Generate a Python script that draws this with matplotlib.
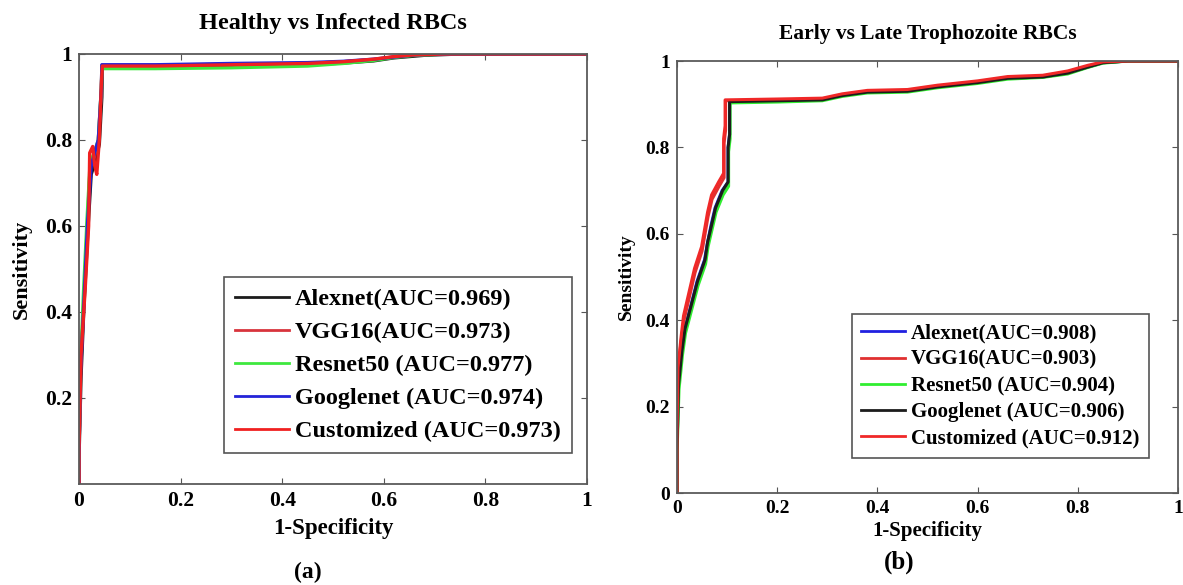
import matplotlib
matplotlib.use("Agg")
import matplotlib.pyplot as plt

plt.rcParams["font.family"] = ["Liberation Serif", "DejaVu Serif"]
plt.rcParams["font.weight"] = "bold"

# ---- tick labels ----
X_TICKS = [0, 0.2, 0.4, 0.6, 0.8, 1]
X_TICK_LABELS = ["0", "0.2", "0.4", "0.6", "0.8", "1"]
Y_TICKS_A = [0.2, 0.4, 0.6, 0.8, 1]
Y_TICK_LABELS_A = ["0.2", "0.4", "0.6", "0.8", "1"]
Y_TICKS_B = [0, 0.2, 0.4, 0.6, 0.8, 1]
Y_TICK_LABELS_B = ["0", "0.2", "0.4", "0.6", "0.8", "1"]

# ---- (a) Healthy vs Infected RBCs ----
labels_a = ["Alexnet(AUC=0.969)", "VGG16(AUC=0.973)", "Resnet50 (AUC=0.977)",
            "Googlenet (AUC=0.974)", "Customized (AUC=0.973)"]
colors_a = ["#1c1c1c", "#d8343c", "#3ee83e", "#2424d8", "#f02020"]

fpr_alexnet_a = [0, 0, 0.004, 0.010, 0.018, 0.024, 0.032, 0.040, 0.045, 0.046, 0.15, 0.30, 0.45, 0.52, 0.58, 0.62, 0.68, 0.75, 1.0]
tpr_alexnet_a = [0, 0.06, 0.25, 0.42, 0.60, 0.72, 0.75, 0.79, 0.90, 0.970, 0.970, 0.972, 0.975, 0.979, 0.984, 0.991, 0.997, 1.0, 1.0]
fpr_vgg16_a = [0, 0, 0.003, 0.010, 0.017, 0.022, 0.030, 0.038, 0.044, 0.045, 0.15, 0.30, 0.45, 0.52, 0.58, 0.62, 0.66, 0.72, 1.0]
tpr_vgg16_a = [0, 0.07, 0.27, 0.44, 0.62, 0.74, 0.76, 0.80, 0.92, 0.974, 0.974, 0.976, 0.978, 0.982, 0.987, 0.993, 0.998, 1.0, 1.0]
fpr_resnet50_a = [0, 0, 0.003, 0.009, 0.016, 0.022, 0.030, 0.038, 0.044, 0.045, 0.15, 0.30, 0.45, 0.52, 0.58, 0.62, 0.66, 0.72, 1.0]
tpr_resnet50_a = [0, 0.08, 0.28, 0.45, 0.62, 0.75, 0.77, 0.80, 0.92, 0.966, 0.966, 0.968, 0.972, 0.978, 0.985, 0.992, 0.997, 1.0, 1.0]
fpr_googlenet_a = [0, 0, 0.003, 0.010, 0.017, 0.024, 0.033, 0.038, 0.044, 0.045, 0.15, 0.30, 0.45, 0.52, 0.58, 0.62, 0.66, 0.72, 1.0]
tpr_googlenet_a = [0, 0.07, 0.26, 0.43, 0.61, 0.74, 0.78, 0.80, 0.92, 0.975, 0.975, 0.978, 0.980, 0.983, 0.988, 0.993, 0.998, 1.0, 1.0]
fpr_custom_a = [0, 0, 0.004, 0.012, 0.019, 0.021, 0.027, 0.031, 0.035, 0.040, 0.044, 0.046, 0.15, 0.30, 0.45, 0.52, 0.58, 0.62, 0.66, 0.72, 1.0]
tpr_custom_a = [0, 0.08, 0.30, 0.45, 0.60, 0.77, 0.785, 0.74, 0.72, 0.80, 0.93, 0.972, 0.972, 0.975, 0.978, 0.982, 0.988, 0.994, 0.998, 1.0, 1.0]

curves_a = [(fpr_alexnet_a, tpr_alexnet_a), (fpr_vgg16_a, tpr_vgg16_a),
            (fpr_resnet50_a, tpr_resnet50_a), (fpr_googlenet_a, tpr_googlenet_a),
            (fpr_custom_a, tpr_custom_a)]

# ---- (b) Early vs Late Trophozoite RBCs ----
labels_b = ["Alexnet(AUC=0.908)", "VGG16(AUC=0.903)", "Resnet50 (AUC=0.904)",
            "Googlenet (AUC=0.906)", "Customized (AUC=0.912)"]
colors_b = ["#2020e0", "#e03030", "#30ee30", "#1c1c1c", "#f02828"]

fpr_alexnet_b = [0, 0, 0.003, 0.010, 0.016, 0.040, 0.055, 0.061, 0.068, 0.076, 0.090, 0.102, 0.102, 0.105, 0.105, 0.20, 0.29, 0.33, 0.38, 0.46, 0.52, 0.60, 0.66, 0.73, 0.78, 0.82, 0.85, 0.90, 1.0]
tpr_alexnet_b = [0, 0.10, 0.25, 0.33, 0.38, 0.49, 0.54, 0.58, 0.62, 0.66, 0.70, 0.72, 0.80, 0.83, 0.905, 0.907, 0.910, 0.920, 0.928, 0.930, 0.940, 0.950, 0.960, 0.963, 0.972, 0.986, 0.996, 1.0, 1.0]
fpr_vgg16_b = [0, 0, 0.002, 0.008, 0.014, 0.036, 0.050, 0.056, 0.062, 0.070, 0.084, 0.094, 0.094, 0.097, 0.097, 0.20, 0.29, 0.33, 0.38, 0.46, 0.52, 0.60, 0.66, 0.73, 0.78, 0.82, 0.85, 0.90, 1.0]
tpr_vgg16_b = [0, 0.12, 0.28, 0.35, 0.40, 0.51, 0.56, 0.60, 0.64, 0.68, 0.71, 0.73, 0.81, 0.84, 0.908, 0.910, 0.912, 0.922, 0.930, 0.932, 0.942, 0.952, 0.962, 0.965, 0.975, 0.988, 0.997, 1.0, 1.0]
fpr_resnet50_b = [0, 0, 0.004, 0.011, 0.017, 0.042, 0.057, 0.062, 0.070, 0.078, 0.092, 0.103, 0.103, 0.106, 0.106, 0.20, 0.29, 0.33, 0.38, 0.46, 0.52, 0.60, 0.66, 0.73, 0.78, 0.82, 0.85, 0.90, 1.0]
tpr_resnet50_b = [0, 0.09, 0.24, 0.32, 0.37, 0.48, 0.53, 0.57, 0.61, 0.65, 0.69, 0.71, 0.79, 0.82, 0.903, 0.905, 0.908, 0.918, 0.926, 0.928, 0.938, 0.948, 0.958, 0.962, 0.970, 0.985, 0.995, 1.0, 1.0]
fpr_googlenet_b = [0, 0, 0.003, 0.010, 0.016, 0.041, 0.056, 0.061, 0.069, 0.077, 0.091, 0.102, 0.102, 0.105, 0.105, 0.20, 0.29, 0.33, 0.38, 0.46, 0.52, 0.60, 0.66, 0.73, 0.78, 0.82, 0.85, 0.90, 1.0]
tpr_googlenet_b = [0, 0.10, 0.25, 0.33, 0.38, 0.49, 0.54, 0.58, 0.62, 0.66, 0.70, 0.72, 0.80, 0.83, 0.906, 0.908, 0.910, 0.920, 0.928, 0.930, 0.940, 0.950, 0.960, 0.963, 0.972, 0.986, 0.996, 1.0, 1.0]
fpr_custom_b = [0, 0, 0.002, 0.008, 0.013, 0.035, 0.049, 0.055, 0.061, 0.069, 0.083, 0.093, 0.093, 0.096, 0.096, 0.20, 0.29, 0.33, 0.38, 0.46, 0.52, 0.60, 0.66, 0.73, 0.78, 0.82, 0.85, 0.90, 1.0]
tpr_custom_b = [0, 0.13, 0.29, 0.36, 0.41, 0.52, 0.57, 0.61, 0.65, 0.69, 0.72, 0.74, 0.82, 0.85, 0.910, 0.912, 0.914, 0.924, 0.932, 0.934, 0.944, 0.954, 0.964, 0.967, 0.977, 0.990, 0.998, 1.0, 1.0]

curves_b = [(fpr_alexnet_b, tpr_alexnet_b), (fpr_vgg16_b, tpr_vgg16_b),
            (fpr_resnet50_b, tpr_resnet50_b), (fpr_googlenet_b, tpr_googlenet_b),
            (fpr_custom_b, tpr_custom_b)]


def style_axes(ax, yticks, ylabels, tick_size):
    ax.set_xlim(0, 1)
    ax.set_ylim(0, 1)
    ax.set_xticks(X_TICKS)
    ax.set_xticklabels(X_TICK_LABELS)
    ax.set_yticks(yticks)
    ax.set_yticklabels(ylabels)
    ax.tick_params(direction="in", top=True, right=True, length=4, width=0.8,
                   color="#555555", labelsize=tick_size, pad=5)
    for sp in ax.spines.values():
        sp.set_color("#5a5a5a")
        sp.set_linewidth(1.3)


fig = plt.figure(figsize=(11.83, 5.85), dpi=100)

# ---------- (a) ----------
ax1 = fig.add_axes([79 / 1183, 1 - 484 / 585, 508 / 1183, 430 / 585])
for (x, y), c, lab in zip(curves_a, colors_a, labels_a):
    ax1.plot(x, y, color=c, lw=2.4, label=lab)
style_axes(ax1, Y_TICKS_A, Y_TICK_LABELS_A, 15.5)
ax1.set_title("Healthy vs Infected RBCs", fontsize=17.5, fontweight="bold", pad=18)
ax1.set_xlabel("1-Specificity", fontsize=16.5, fontweight="bold", labelpad=5)
ax1.set_ylabel("Sensitivity", fontsize=16, fontweight="bold", labelpad=9)
leg1 = ax1.legend(loc="lower right", bbox_to_anchor=(0.970, 0.072), fontsize=17.5,
                  handlelength=2.2, handletextpad=0.25, labelspacing=0.45,
                  borderpad=0.45, borderaxespad=0,
                  fancybox=False, edgecolor="#555555", framealpha=1)
leg1.get_frame().set_linewidth(1.2)
for h in leg1.get_lines():
    h.set_linewidth(2.0)
fig.text(308 / 1183, 1 - 572 / 585, "(a)", fontsize=17, fontweight="bold",
         ha="center", va="center")

# ---------- (b) ----------
ax2 = fig.add_axes([677 / 1183, 1 - 493 / 585, 501 / 1183, 432 / 585])
for (x, y), c, lab in zip(curves_b, colors_b, labels_b):
    ax2.plot(x, y, color=c, lw=2.2, label=lab)
style_axes(ax2, Y_TICKS_B, Y_TICK_LABELS_B, 14)
ax2.set_title("Early vs Late Trophozoite RBCs", fontsize=15.5, fontweight="bold", pad=16)
ax2.set_xlabel("1-Specificity", fontsize=15, fontweight="bold", labelpad=3)
ax2.set_ylabel("Sensitivity", fontsize=14, fontweight="bold", labelpad=8)
leg2 = ax2.legend(loc="lower right", bbox_to_anchor=(0.942, 0.081), fontsize=15,
                  handlelength=2.1, handletextpad=0.3, labelspacing=0.3,
                  borderpad=0.45, borderaxespad=0,
                  fancybox=False, edgecolor="#555555", framealpha=1)
leg2.get_frame().set_linewidth(1.2)
for h in leg2.get_lines():
    h.set_linewidth(2.0)
fig.text(899 / 1183, 1 - 562 / 585, "(b)", fontsize=18, fontweight="bold",
         ha="center", va="center")

fig.savefig("out.png", dpi=100)
